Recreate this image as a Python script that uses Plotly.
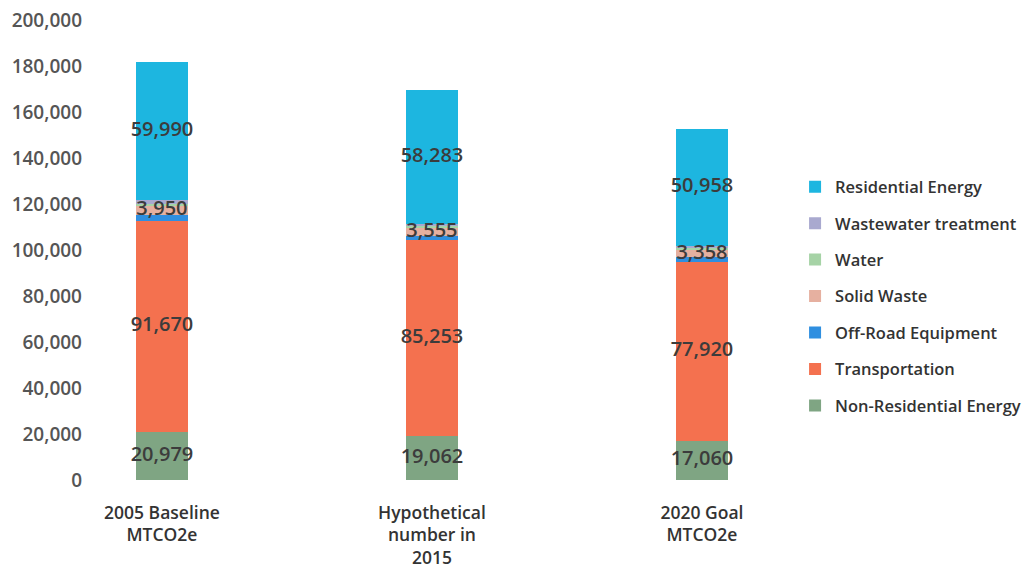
import plotly.graph_objects as go

categories = ["2005 Baseline<br>MTCO2e", "Hypothetical<br>number in<br>2015", "2020 Goal<br>MTCO2e"]

non_residential = [20979, 19062, 17060]
transportation = [91670, 85253, 77920]
off_road = [2700, 1800, 1800]
solid_waste = [3950, 3555, 3358]
water = [600, 600, 600]
wastewater = [2000, 1000, 1000]
residential = [59990, 58283, 50958]

series = [
    ("Non-Residential Energy", non_residential, "#7fa583", True),
    ("Transportation", transportation, "#f4714f", True),
    ("Off-Road Equipment", off_road, "#2f8fe0", False),
    ("Solid Waste", solid_waste, "#e6b0a0", True),
    ("Water", water, "#a6d3a6", False),
    ("Wastewater treatment", wastewater, "#a9a9cf", False),
    ("Residential Energy", residential, "#1db6e0", True),
]

FONT = "Open Sans, Lato, sans-serif"

fig = go.Figure()
base = [0, 0, 0]
label_x, label_y, label_t = [], [], []
for i, (name, vals, color, show) in enumerate(series):
    fig.add_trace(go.Bar(
        name=name, x=categories, y=vals,
        marker=dict(color=color, line=dict(width=0)),
        legendrank=100 - i,
        legendgroup=f"g{i}",
        hoverinfo="name+y",
    ))
    if show:
        for k, v in enumerate(vals):
            label_x.append(categories[k])
            label_y.append(base[k] + v / 2)
            label_t.append(f"{v:,}")
    base = [b + v for b, v in zip(base, vals)]

fig.add_trace(go.Scatter(
    x=label_x, y=label_y, text=label_t, mode="text",
    textposition="middle center",
    textfont=dict(family=FONT, size=20, color="#3c3c3c", weight=600),
    showlegend=False, hoverinfo="skip", cliponaxis=False,
))

fig.update_layout(
    barmode="stack",
    bargap=0.807,
    width=1018, height=562,
    margin=dict(l=87, r=246, t=12, b=90, autoexpand=False),
    paper_bgcolor="white", plot_bgcolor="white",
    font=dict(family=FONT, size=16, color="#555555"),
    xaxis=dict(
        range=[-0.248, 2.289],
        showgrid=False, showline=False, zeroline=False, ticks="",
        tickfont=dict(size=17.5, color="#333333", weight=600),
        ticklabelstandoff=20,
        automargin=False,
    ),
    yaxis=dict(
        range=[0, 200000], dtick=20000, tickformat=",",
        showgrid=False, showline=False, zeroline=False, ticks="",
        tickfont=dict(size=19, color="#555555", weight=600),
        ticklabeloverflow="allow",
        ticklabelstandoff=12,
        automargin=False,
    ),
    legend=dict(
        x=1.022, y=0.399, xanchor="left", yanchor="middle",
        traceorder="grouped",
        font=dict(size=16.5, color="#333333", weight=600),
        itemwidth=30,
        tracegroupgap=12,
    ),
    showlegend=True,
)

fig.write_html("out.html")
